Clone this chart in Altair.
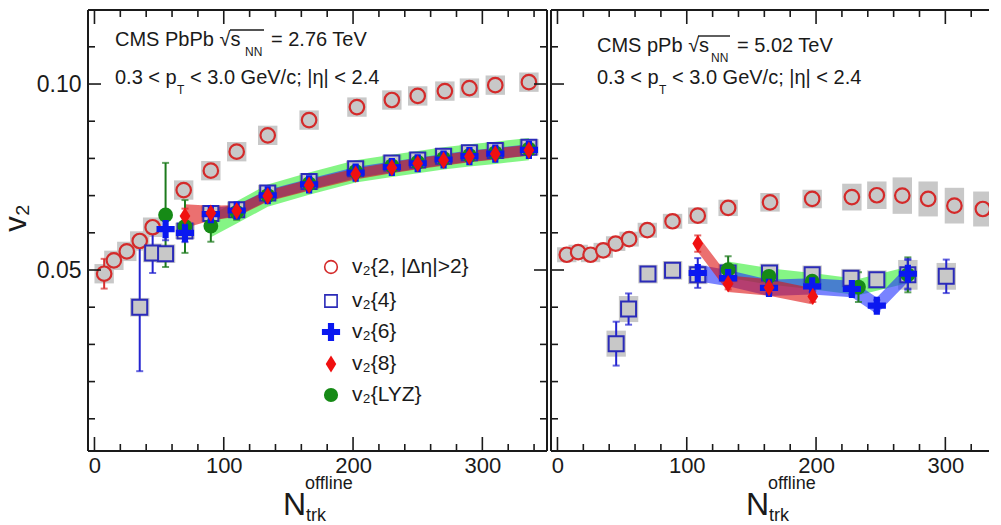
import altair as alt
import pandas as pd

FONT = "Liberation Sans"
INK = "#1a1a1a"

# ---------------- data: PbPb 2.76 TeV (left panel) ----------------
pb_v22_x = [7.5, 15, 25, 35, 45, 69, 90, 110, 134, 166, 203, 230, 250, 271, 290, 310, 336]
pb_v22_y = [0.0490, 0.0526, 0.0550, 0.0578, 0.0615, 0.0715, 0.0767, 0.0818, 0.0862, 0.0903,
            0.0938, 0.0957, 0.0968, 0.0981, 0.0989, 0.0997, 0.1005]
pb_v22_stat = [0.0040, 0.0018, 0.0010, 0.0008, 0.0006, 0.0005, 0.0004, 0.0004, 0.0003, 0.0003,
               0.0003, 0.0003, 0.0003, 0.0003, 0.0003, 0.0003, 0.0003]
pb_v22_sys = [0.0026, 0.0026, 0.0026, 0.0026, 0.0026, 0.0026, 0.0026, 0.0026, 0.0026, 0.0026,
              0.0026, 0.0026, 0.0026, 0.0026, 0.0026, 0.0026, 0.0026]

pb_v24_x = [35, 45, 55, 70, 90, 110, 134, 166, 202, 230, 250, 270, 290, 310, 336]
pb_v24_y = [0.0400, 0.0546, 0.0544, 0.0605, 0.0652, 0.0662, 0.0707, 0.0738, 0.0772, 0.0788,
            0.0796, 0.0806, 0.0815, 0.0821, 0.0830]
pb_v24_stat = [0.0172, 0.0054, 0.0012, 0.0010, 0.0008, 0.0006, 0.0005, 0.0005, 0.0005, 0.0005,
               0.0005, 0.0005, 0.0005, 0.0005, 0.0005]
pb_v24_sys = [0.0025, 0.0025, 0.0025, 0.0022, 0.0022, 0.0022, 0.0022, 0.0022, 0.0022, 0.0022,
              0.0022, 0.0022, 0.0022, 0.0022, 0.0022]

pb_v26_x = [55, 70, 90, 110, 134, 166, 202, 230, 250, 270, 290, 310, 336]
pb_v26_y = [0.0610, 0.0600, 0.0650, 0.0660, 0.0701, 0.0730, 0.0762, 0.0777, 0.0787, 0.0797,
            0.0806, 0.0813, 0.0823]
pb_v26_stat = [0.0030, 0.0025, 0.0015, 0.0010, 0.0008, 0.0006, 0.0006, 0.0006, 0.0006, 0.0006,
               0.0006, 0.0006, 0.0006]
pb_v26_band = [0.0, 0.0, 0.0016, 0.0015, 0.0015, 0.0015, 0.0015, 0.0015, 0.0015, 0.0015,
               0.0015, 0.0015, 0.0015]

pb_v28_x = [70, 90, 110, 134, 166, 202, 230, 250, 270, 290, 310, 336]
pb_v28_y = [0.0645, 0.0653, 0.0659, 0.0699, 0.0728, 0.0758, 0.0775, 0.0786, 0.0795, 0.0805,
            0.0812, 0.0822]
pb_v28_stat = [0.0020, 0.0012, 0.0010, 0.0008, 0.0006, 0.0006, 0.0006, 0.0006, 0.0006, 0.0006,
               0.0006, 0.0006]
pb_v28_band = [0.0032, 0.0020, 0.0016, 0.0015, 0.0015, 0.0015, 0.0015, 0.0015, 0.0015, 0.0015,
               0.0015, 0.0015]

pb_lyz_x = [55, 70, 90, 110, 134, 166, 202, 230, 250, 270, 290, 310, 336]
pb_lyz_y = [0.0648, 0.0617, 0.0618, 0.0655, 0.0700, 0.0732, 0.0765, 0.0780, 0.0790, 0.0800,
            0.0808, 0.0815, 0.0825]
pb_lyz_stat = [0.0140, 0.0071, 0.0042, 0.0020, 0.0012, 0.0008, 0.0006, 0.0006, 0.0006, 0.0006,
               0.0006, 0.0006, 0.0006]
pb_lyz_band = [0.0, 0.0, 0.0030, 0.0030, 0.0030, 0.0030, 0.0030, 0.0030, 0.0030, 0.0030,
               0.0030, 0.0030, 0.0030]

# ---------------- data: pPb 5.02 TeV (right panel) ----------------
pp_v22_x = [7.2, 16, 25.6, 35.4, 45, 55.4, 69.5, 89, 108.5, 132, 164.4, 197, 227.7, 247, 266.7,
            286.7, 307, 329]
pp_v22_y = [0.0541, 0.0548, 0.0541, 0.0553, 0.0571, 0.0583, 0.0607, 0.0631, 0.0646, 0.0667,
            0.0682, 0.0691, 0.0696, 0.0701, 0.0700, 0.0691, 0.0673, 0.0664]
pp_v22_stat = [0.0004, 0.0004, 0.0004, 0.0004, 0.0004, 0.0004, 0.0004, 0.0004, 0.0004, 0.0004,
               0.0004, 0.0004, 0.0004, 0.0004, 0.0004, 0.0004, 0.0004, 0.0004]
pp_v22_sys = [0.0020, 0.0020, 0.0020, 0.0020, 0.0020, 0.0020, 0.0020, 0.0020, 0.0022, 0.0022,
              0.0025, 0.0025, 0.0036, 0.0037, 0.0049, 0.0047, 0.0048, 0.0047]

pp_v24_x = [45.4, 55, 70, 89, 108.5, 132, 164, 197, 227, 247, 271, 300.7]
pp_v24_y = [0.0302, 0.0395, 0.0489, 0.0499, 0.0487, 0.0492, 0.0492, 0.0487, 0.0478, 0.0474,
            0.0487, 0.0483]
pp_v24_stat = [0.0059, 0.0042, 0.0010, 0.0010, 0.0010, 0.0010, 0.0010, 0.0010, 0.0010, 0.0010,
               0.0040, 0.0045]
pp_v24_sys = [0.0035, 0.0035, 0.0025, 0.0025, 0.0025, 0.0025, 0.0025, 0.0025, 0.0025, 0.0025,
              0.0040, 0.0036]

pp_v26_x = [108.5, 132, 163.6, 197, 227.7, 247, 271]
pp_v26_y = [0.0492, 0.0478, 0.0452, 0.0456, 0.0449, 0.0404, 0.0490]
pp_v26_stat = [0.0040, 0.0015, 0.0015, 0.0015, 0.0015, 0.0015, 0.0040]
pp_v26_band = [0.0022, 0.0022, 0.0022, 0.0022, 0.0022, 0.0022, 0.0022]

pp_v28_x = [108.5, 132, 163.6, 197.5]
pp_v28_y = [0.0571, 0.0463, 0.0453, 0.0429]
pp_v28_stat = [0.0022, 0.0015, 0.0015, 0.0015]
pp_v28_band = [0.0022, 0.0022, 0.0022, 0.0022]

pp_lyz_x = [132, 163.6, 197, 232.8, 271]
pp_lyz_y = [0.0501, 0.0483, 0.0470, 0.0454, 0.0487]
pp_lyz_stat = [0.0036, 0.0020, 0.0020, 0.0040, 0.0047]
pp_lyz_band = [0.0022, 0.0022, 0.0022, 0.0022, 0.0022]

# ---------------- axis ticks / labels ----------------
x_major = [0, 100, 200, 300]
x_minor = [20, 40, 60, 80, 120, 140, 160, 180, 220, 240, 260, 280, 320, 340]
y_major = [0.05, 0.10]
y_minor = [0.01, 0.02, 0.03, 0.04, 0.06, 0.07, 0.08, 0.09, 0.11]

legend_labels = ["v₂{2, |Δη|>2}", "v₂{4}", "v₂{6}", "v₂{8}", "v₂{LYZ}"]

# ---------------- styling ----------------
H = 441
W_L = 459
W_R = 438
PX_PER_UNIT = W_L / 355.0
XD_L = [-5, 350]
XD_R = [-5, -5 + W_R / PX_PER_UNIT]
YD = [0.00134, 0.1199]
BOX_HALF = 7.5

C_RED_O = "#d42a2a"
C_GRAY = "#c8c8c8"
C_SQ = "#2b2bb8"
C_CROSS = "#0a18f0"
C_DIAM = "#f01010"
C_LYZ = "#168a16"
CROSS_PATH = ("M-0.34,-1L0.34,-1L0.34,-0.34L1,-0.34L1,0.34L0.34,0.34L0.34,1L-0.34,1"
              "L-0.34,0.34L-1,0.34L-1,-0.34L-0.34,-0.34Z")
DIAM_PATH = "M0,-1L0.62,0L0,1L-0.62,0Z"

dummy = pd.DataFrame({"d": [0]})


def frame(xs, ys, stat=None, sys=None, band=None):
    df = pd.DataFrame({"x": xs, "y": ys})
    if stat is not None:
        df["lo"] = [a - b for a, b in zip(ys, stat)]
        df["hi"] = [a + b for a, b in zip(ys, stat)]
    if sys is not None:
        df["slo"] = [a - b for a, b in zip(ys, sys)]
        df["shi"] = [a + b for a, b in zip(ys, sys)]
        df["xl"] = [a - BOX_HALF for a in xs]
        df["xr"] = [a + BOX_HALF for a in xs]
    if band is not None:
        df["blo"] = [a - b for a, b in zip(ys, band)]
        df["bhi"] = [a + b for a, b in zip(ys, band)]
    return df


def txt(s, x, y, size, align="left", baseline="alphabetic", angle=None):
    kw = dict(text=s, font=FONT, fontSize=size, color=INK, align=align, baseline=baseline)
    if angle is not None:
        kw["angle"] = angle
    return alt.Chart(dummy).mark_text(**kw).encode(x=alt.value(x), y=alt.value(y))


def panel(d, W, xdom, show_y, ann, legend):
    xaxis = alt.Axis(values=x_major, ticks=False, domain=False, grid=False, labelFontSize=22,
                     labelFont=FONT, labelColor=INK, labelPadding=4, labelFlush=False, title=None)
    if show_y:
        yaxis = alt.Axis(values=y_major, format=".2f", ticks=False, domain=False, grid=False,
                         labelFontSize=23, labelFont=FONT, labelColor=INK, labelPadding=7,
                         labelFlush=False, title=None)
    else:
        yaxis = None

    def X(f):
        return alt.X(f, type="quantitative", scale=alt.Scale(domain=xdom, nice=False, zero=False),
                     axis=xaxis)

    def Y(f):
        return alt.Y(f, type="quantitative", scale=alt.Scale(domain=YD, nice=False, zero=False),
                     axis=yaxis)

    layers = []
    xmaj = pd.DataFrame({"v": x_major})
    xmin = pd.DataFrame({"v": x_minor})
    ymaj = pd.DataFrame({"v": y_major})
    ymin = pd.DataFrame({"v": y_minor})

    # systematic boxes
    for key in ["v22", "v24"]:
        layers.append(alt.Chart(d[key]).mark_rect(color=C_GRAY, clip=True).encode(
            x=X("xl"), x2=alt.X2("xr"), y=Y("slo"), y2=alt.Y2("shi")))
    # bands (only where a band width is given)
    for key, col, op in [("lyz", "#33ee33", 0.6), ("v26", "#2030ff", 0.6), ("v28", "#dd1010", 0.6)]:
        layers.append(alt.Chart(d[key]).transform_filter(alt.datum.bhi > alt.datum.blo)
                      .mark_area(color=col, opacity=op, clip=True).encode(
            x=X("x"), y=Y("blo"), y2=alt.Y2("bhi")))
    # error bars
    for key, col in [("v22", "#d83030"), ("v24", "#2424d0"), ("lyz", "#1c7a1c"),
                     ("v26", "#2424d0"), ("v28", "#d82a2a")]:
        layers.append(alt.Chart(d[key]).mark_rule(color=col, strokeWidth=2, clip=True).encode(
            x=X("x"), y=Y("lo"), y2=alt.Y2("hi")))
        for end in ["lo", "hi"]:
            layers.append(alt.Chart(d[key]).mark_tick(color=col, thickness=2, size=7,
                                                      orient="horizontal", clip=True).encode(
                x=X("x"), y=Y(end)))
    # markers (open markers get the grey systematic fill behind them)
    layers.append(alt.Chart(d["v22"]).mark_point(shape="circle", fill=C_GRAY, fillOpacity=1,
                                                 stroke=C_RED_O, size=210, strokeWidth=2.2,
                                                 opacity=1, clip=True).encode(x=X("x"), y=Y("y")))
    layers.append(alt.Chart(d["v24"]).mark_point(shape="square", fill=C_GRAY, fillOpacity=1,
                                                 stroke=C_SQ, size=225, strokeWidth=2,
                                                 opacity=1, clip=True).encode(x=X("x"), y=Y("y")))
    layers.append(alt.Chart(d["lyz"]).mark_point(shape="circle", filled=True, color=C_LYZ,
                                                 size=220, opacity=1,
                                                 clip=True).encode(x=X("x"), y=Y("y")))
    layers.append(alt.Chart(d["v26"]).mark_point(shape=CROSS_PATH, filled=True, color=C_CROSS,
                                                 size=330, opacity=1,
                                                 clip=True).encode(x=X("x"), y=Y("y")))
    layers.append(alt.Chart(d["v28"]).mark_point(shape=DIAM_PATH, filled=True, color=C_DIAM,
                                                 size=300, opacity=1,
                                                 clip=True).encode(x=X("x"), y=Y("y")))

    # ticks (inward) and frame
    for df_, ln in [(xmaj, 14), (xmin, 7)]:
        layers.append(alt.Chart(df_).mark_rule(color=INK, strokeWidth=1.6, clip=True).encode(
            x=X("v"), y=alt.value(H), y2=alt.value(H - ln)))
        layers.append(alt.Chart(df_).mark_rule(color=INK, strokeWidth=1.6, clip=True).encode(
            x=X("v"), y=alt.value(0), y2=alt.value(ln)))
    for df_, ln in [(ymaj, 13), (ymin, 7)]:
        layers.append(alt.Chart(df_).mark_rule(color=INK, strokeWidth=1.6).encode(
            y=Y("v"), x=alt.value(0), x2=alt.value(ln)))
        if show_y:
            layers.append(alt.Chart(df_).mark_rule(color=INK, strokeWidth=1.6).encode(
                y=Y("v"), x=alt.value(W), x2=alt.value(W - ln)))
    layers.append(alt.Chart(dummy).mark_rule(color=INK, strokeWidth=2).encode(
        x=alt.value(0), x2=alt.value(W), y=alt.value(0)))
    layers.append(alt.Chart(dummy).mark_rule(color=INK, strokeWidth=2).encode(
        x=alt.value(0), x2=alt.value(W), y=alt.value(H)))
    layers.append(alt.Chart(dummy).mark_rule(color=INK, strokeWidth=2).encode(
        x=alt.value(0), y=alt.value(0), y2=alt.value(H)))
    if show_y:
        layers.append(alt.Chart(dummy).mark_rule(color=INK, strokeWidth=2).encode(
            x=alt.value(W), y=alt.value(0), y2=alt.value(H)))

    # annotations
    x0, y1, nnx, eqx, ol0, ol1, y2, tx, restx, head, tail = ann
    layers.append(txt(head, x0, y1, 20))
    layers.append(txt("NN", nnx, y1 + 10, 12))
    layers.append(txt(tail, eqx, y1, 20))
    layers.append(alt.Chart(dummy).mark_rule(color=INK, strokeWidth=1.4).encode(
        x=alt.value(ol0), x2=alt.value(ol1), y=alt.value(y1 - 16)))
    layers.append(txt("0.3 < p", x0, y2, 20))
    layers.append(txt("T", tx, y2 + 10, 12))
    layers.append(txt("< 3.0 GeV/c; |η| < 2.4", restx, y2, 20))

    # x title
    layers.append(txt("N", 195, 505, 32))
    layers.append(txt("offline", 217, 479, 18))
    layers.append(txt("trk", 218, 511, 18))

    if show_y:
        layers.append(txt("v₂", -62, 208, 31, align="center", angle=270))

    if legend:
        rows = [257, 291, 322, 354, 385]
        sx, tx_ = 243, 264
        sym = [
            dict(shape="circle", filled=False, color=C_RED_O, size=160, strokeWidth=1.6),
            dict(shape="square", filled=False, color=C_SQ, size=150, strokeWidth=1.6),
            dict(shape=CROSS_PATH, filled=True, color=C_CROSS, size=330),
            dict(shape=DIAM_PATH, filled=True, color=C_DIAM, size=290),
            dict(shape="circle", filled=True, color=C_LYZ, size=200),
        ]
        for lab, ry, s in zip(legend_labels, rows, sym):
            layers.append(alt.Chart(dummy).mark_point(opacity=1, **s).encode(
                x=alt.value(sx), y=alt.value(ry)))
            layers.append(txt(lab, tx_, ry, 21, baseline="middle"))

    return alt.layer(*layers).properties(width=W, height=H)


left_data = {
    "v22": frame(pb_v22_x, pb_v22_y, pb_v22_stat, pb_v22_sys),
    "v24": frame(pb_v24_x, pb_v24_y, pb_v24_stat, pb_v24_sys),
    "v26": frame(pb_v26_x, pb_v26_y, pb_v26_stat, band=pb_v26_band),
    "v28": frame(pb_v28_x, pb_v28_y, pb_v28_stat, band=pb_v28_band),
    "lyz": frame(pb_lyz_x, pb_lyz_y, pb_lyz_stat, band=pb_lyz_band),
}
right_data = {
    "v22": frame(pp_v22_x, pp_v22_y, pp_v22_stat, pp_v22_sys),
    "v24": frame(pp_v24_x, pp_v24_y, pp_v24_stat, pp_v24_sys),
    "v26": frame(pp_v26_x, pp_v26_y, pp_v26_stat, band=pp_v26_band),
    "v28": frame(pp_v28_x, pp_v28_y, pp_v28_stat, band=pp_v28_band),
    "lyz": frame(pp_lyz_x, pp_lyz_y, pp_lyz_stat, band=pp_lyz_band),
}

left = panel(left_data, W_L, XD_L, True,
             (27, 36, 157, 183, 142, 176, 74, 89, 102, "CMS PbPb √s", "= 2.76 TeV"), True)
right = panel(right_data, W_R, XD_R, False,
              (46, 42, 160, 186, 147, 179, 74, 108, 121, "CMS pPb √s", "= 5.02 TeV"), False)

chart = alt.hconcat(left, right, spacing=0).properties(
    padding={"left": -8, "top": 0, "right": 0, "bottom": 0},
    background="white",
).configure_view(stroke="transparent")

chart.save("out.html", embed_options={"renderer": "svg", "actions": False})
